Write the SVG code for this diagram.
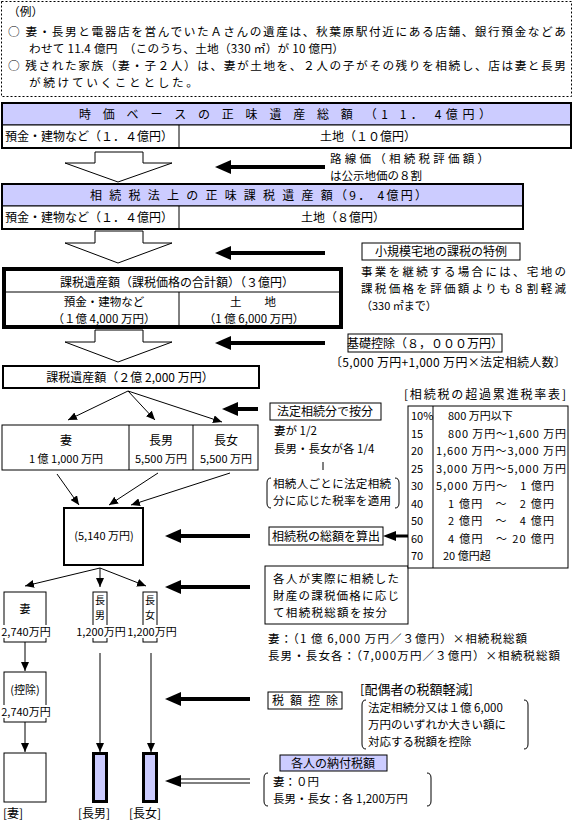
<svg xmlns="http://www.w3.org/2000/svg" width="574" height="821" viewBox="0 0 574 821">
<style>
.t{font-family:"Noto Sans CJK JP","Noto Sans CJK SC",sans-serif;font-size:12px;fill:#000}
.s{font-size:11.5px}
.xs{font-size:11px}
.m{text-anchor:middle}
.bx{fill:#fff;stroke:#000;stroke-width:1}
.bx2{fill:#fff;stroke:#000;stroke-width:2}
.hd{fill:#ccccff;stroke:#000;stroke-width:1}
.ln{stroke:#000;stroke-width:1;fill:none}
.big{stroke:#000;stroke-width:4;fill:none;marker-end:url(#bh)}
.thin{stroke:#000;stroke-width:1;fill:none;marker-end:url(#sh)}
.hol{fill:#fff;stroke:#000;stroke-width:1}
.wb{fill:#fff;stroke:none}
</style>
<defs>
<marker id="bh" markerUnits="userSpaceOnUse" markerWidth="16" markerHeight="14" viewBox="0 0 16 14" refX="0" refY="7" orient="auto"><path d="M0,0 L16,7 L0,14 z" fill="#000"/></marker>
<marker id="sh" markerUnits="userSpaceOnUse" markerWidth="9" markerHeight="8" viewBox="0 0 9 8" refX="9" refY="4" orient="auto"><path d="M0,0 L9,4 L0,8 z" fill="#000"/></marker>
</defs>

<g id="example">
<rect x="1.5" y="1.5" width="570" height="95" fill="#fff" stroke="#000" stroke-width="1" stroke-dasharray="2,2"/>
<text class="t" style="font-size:11.7px" x="8" y="16">（例）</text>
<text class="t" style="font-size:11.7px" x="8" y="36" textLength="558" lengthAdjust="spacing">○ 妻・長男と電器店を営んでいたＡさんの遺産は、秋葉原駅付近にある店舗、銀行預金などあ</text>
<text class="t" style="font-size:11.7px" x="29" y="53" textLength="315" lengthAdjust="spacing">わせて 11.4 億円　（このうち、土地（330 ㎡）が 10 億円）</text>
<text class="t" style="font-size:11.7px" x="8" y="70" textLength="558" lengthAdjust="spacing">○ 残された家族（妻・子２人）は、妻が土地を、２人の子がその残りを相続し、店は妻と長男</text>
<text class="t" style="font-size:11.7px" x="29" y="87" textLength="169" lengthAdjust="spacing">が続けていくこととした。</text>
</g>

<g id="box1">
<rect class="hd" x="2" y="103" width="569" height="22"/>
<rect class="bx" x="2" y="125" width="569" height="23"/>
<line class="ln" x1="179" y1="125" x2="179" y2="148"/>
<rect x="2" y="103" width="569" height="45" fill="none" stroke="#000" stroke-width="2"/>
<text class="t" x="79" y="119" textLength="412" lengthAdjust="spacing">時 価 ベ ー ス の 正 味 遺 産 総 額 （1 1． 4億円）</text>
<text class="t" x="5" y="141" textLength="168" lengthAdjust="spacing">預金・建物など（１．４億円）</text>
<text class="t m" x="368" y="141">土地（１０億円）</text>
</g>

<g id="box2">
<rect class="hd" x="2" y="184" width="521" height="22"/>
<rect class="bx" x="2" y="206" width="521" height="23"/>
<line class="ln" x1="179" y1="206" x2="179" y2="229"/>
<rect x="2" y="184" width="521" height="45" fill="none" stroke="#000" stroke-width="2"/>
<text class="t" x="90" y="200" textLength="337" lengthAdjust="spacing">相 続 税 法 上 の 正 味 課 税 遺 産 額（9． 4億円）</text>
<text class="t" x="5" y="222" textLength="168" lengthAdjust="spacing">預金・建物など（１．４億円）</text>
<text class="t m" x="343" y="222">土地（８億円）</text>
</g>

<g id="box3">
<rect x="4" y="269" width="337" height="58" fill="#fff" stroke="#000" stroke-width="4"/>
<line class="ln" x1="4" y1="292" x2="341" y2="292"/>
<line class="ln" x1="179" y1="292" x2="179" y2="327"/>
<text class="t m" x="177" y="287">課税遺産額（課税価格の合計額）（３億円）</text>
<text class="t s m" x="104" y="306">預金・建物など</text>
<text class="t s m" x="104" y="323">（１億 4,000 万円）</text>
<text class="t s m" x="253" y="306">土　　地</text>
<text class="t s m" x="254" y="323">（1 億 6,000 万円）</text>
</g>

<g id="box4">
<rect class="bx2" x="3" y="366" width="256" height="22"/>
<text class="t m" x="130" y="382">課税遺産額（２億 2,000 万円）</text>
</g>

<g id="heirs">
<rect class="bx" x="2" y="425" width="256" height="45"/>
<line class="ln" x1="129" y1="425" x2="129" y2="470"/>
<line class="ln" x1="193" y1="425" x2="193" y2="470"/>
<text class="t m" x="66" y="445">妻</text>
<text class="t xs m" x="66" y="463">1 億 1,000 万円</text>
<text class="t m" x="161" y="445">長男</text>
<text class="t xs m" x="161" y="463">5,500 万円</text>
<text class="t m" x="226" y="445">長女</text>
<text class="t xs m" x="226" y="463">5,500 万円</text>
</g>

<g id="total">
<rect class="bx2" x="64" y="508" width="79" height="57"/>
<text class="t xs m" x="104" y="540">(5,140 万円)</text>
</g>

<g id="wife1">
<rect class="bx" x="4" y="592" width="42" height="50"/>
<rect class="wb" x="1" y="625" width="50" height="13"/>
<text class="t xs m" x="25" y="613">妻</text>
<text class="t xs m" x="26" y="636">2,740万円</text>
</g>
<g id="son1">
<rect class="bx" x="93" y="592" width="14" height="50"/>
<rect class="wb" x="76" y="625" width="50" height="13"/>
<text class="t m" style="font-size:10px" x="100" y="604">長</text>
<text class="t m" style="font-size:10px" x="100" y="619">男</text>
<text class="t xs m" x="101" y="636">1,200万円</text>
</g>
<g id="daughter1">
<rect class="bx" x="143" y="592" width="14" height="50"/>
<rect class="wb" x="127" y="625" width="50" height="13"/>
<text class="t m" style="font-size:10px" x="150" y="604">長</text>
<text class="t m" style="font-size:10px" x="150" y="619">女</text>
<text class="t xs m" x="152" y="636">1,200万円</text>
</g>
<g id="wife2">
<rect class="bx" x="4" y="672" width="42" height="50"/>
<rect class="wb" x="1" y="705" width="50" height="13"/>
<text class="t xs m" x="25" y="694">(控除)</text>
<text class="t xs m" x="26" y="716">2,740万円</text>
</g>

<g id="final">
<rect class="bx" x="4" y="753" width="42" height="49"/>
<rect x="93.5" y="753.5" width="13" height="48" fill="#ccccff" stroke="#000" stroke-width="3"/>
<rect x="143.5" y="753.5" width="13" height="48" fill="#ccccff" stroke="#000" stroke-width="3"/>
<text class="t" x="3" y="818">[妻]</text>
<text class="t" x="78" y="818">[長男]</text>
<text class="t" x="129" y="818">[長女]</text>
</g>

<g id="notes">
<text class="t s" x="330" y="163" textLength="159" lengthAdjust="spacing">路線価（相続税評価額）</text>
<text class="t s" x="330" y="180">は公示地価の８割</text>

<rect class="bx" x="362" y="243" width="158" height="17"/>
<text class="t m" x="441" y="256">小規模宅地の課税の特例</text>
<text class="t s" x="361" y="276" textLength="205" lengthAdjust="spacing">事業を継続する場合には、宅地の</text>
<text class="t s" x="361" y="293" textLength="205" lengthAdjust="spacing">課税価格を評価額よりも８割軽減</text>
<text class="t xs" x="361" y="310">（330 ㎡まで）</text>

<rect class="bx" x="348" y="334" width="154" height="18"/>
<text class="t m" x="425" y="348">基礎控除（８，０００万円）</text>
<text class="t" x="330" y="367" textLength="236" lengthAdjust="spacing">〔5,000 万円+1,000 万円×法定相続人数〕</text>

<rect class="bx" x="270" y="403" width="111" height="17"/>
<text class="t m" x="325" y="416">法定相続分で按分</text>
<text class="t s" x="274" y="435">妻が 1/2</text>
<text class="t s" x="274" y="453">長男・長女が各 1/4</text>
<line class="ln" x1="323" y1="462" x2="323" y2="470"/>
<path class="ln" d="M271,478 Q267,478 267,483 L267,503 Q267,508 271,508"/>
<path class="ln" d="M395,478 Q399,478 399,483 L399,503 Q399,508 395,508"/>
<text class="t s" x="273" y="488" textLength="118" lengthAdjust="spacing">相続人ごとに法定相続</text>
<text class="t s" x="273" y="505" textLength="118" lengthAdjust="spacing">分に応じた税率を適用</text>

<rect class="bx" x="269" y="527" width="114" height="18"/>
<text class="t m" x="326" y="541">相続税の総額を算出</text>

<rect class="bx" x="265" y="566" width="143" height="58"/>
<text class="t s" x="273" y="583" textLength="126" lengthAdjust="spacing">各人が実際に相続した</text>
<text class="t s" x="273" y="600" textLength="126" lengthAdjust="spacing">財産の課税価格に応じ</text>
<text class="t s" x="273" y="617" textLength="114" lengthAdjust="spacing">て相続税総額を按分</text>
<text class="t s" x="268" y="643" textLength="259" lengthAdjust="spacing">妻：（1 億 6,000 万円／３億円）×相続税総額</text>
<text class="t s" x="268" y="660" textLength="292" lengthAdjust="spacing">長男・長女各：（7,000万円／３億円）×相続税総額</text>

<rect class="bx" x="268" y="692" width="74" height="17"/>
<text class="t" x="272" y="705" textLength="66" lengthAdjust="spacing">税 額 控 除</text>
<text class="t" x="360" y="694" style="font-size:13px">[配偶者の税額軽減]</text>
<path class="ln" d="M366,700 Q362,700 362,705 L362,744 Q362,749 366,749"/>
<path class="ln" d="M524,700 Q528,700 528,705 L528,744 Q528,749 524,749"/>
<text class="t s" x="368" y="712">法定相続分又は１億 6,000</text>
<text class="t s" x="368" y="729">万円のいずれか大きい額に</text>
<text class="t s" x="368" y="746">対応する税額を控除</text>

<rect class="hd" x="280" y="755" width="107" height="16"/>
<text class="t m" x="333" y="768">各人の納付税額</text>
<path class="ln" d="M268,773 Q264,773 264,778 L264,801 Q264,806 268,806"/>
<path class="ln" d="M427,773 Q431,773 431,778 L431,801 Q431,806 427,806"/>
<text class="t s" x="273" y="786">妻：０円</text>
<text class="t s" x="273" y="803">長男・長女：各 1,200万円</text>

<text class="t" x="404" y="399" textLength="162" lengthAdjust="spacing">[相続税の超過累進税率表]</text>
<rect class="bx" x="408" y="406" width="160" height="162"/>
<line class="ln" x1="433" y1="406" x2="433" y2="568"/>
<g class="t xs">
<text x="411" y="420">10%</text>
<text x="411" y="437.5">15</text>
<text x="411" y="455">20</text>
<text x="411" y="472.5">25</text>
<text x="411" y="490">30</text>
<text x="411" y="507.5">40</text>
<text x="411" y="525">50</text>
<text x="411" y="542.5">60</text>
<text x="411" y="560">70</text>
<text x="448" y="420">800 万円以下</text>
<text x="448" y="437.5" textLength="118" lengthAdjust="spacing">800 万円～1,600 万円</text>
<text x="436" y="455" textLength="130" lengthAdjust="spacing">1,600 万円～3,000 万円</text>
<text x="436" y="472.5" textLength="130" lengthAdjust="spacing">3,000 万円～5,000 万円</text>
<text x="436" y="490" textLength="118" lengthAdjust="spacing">5,000 万円～　1 億円</text>
<text x="448" y="507.5" textLength="106" lengthAdjust="spacing">1 億円　～　2 億円</text>
<text x="448" y="525" textLength="106" lengthAdjust="spacing">2 億円　～　4 億円</text>
<text x="448" y="542.5" textLength="106" lengthAdjust="spacing">4 億円　～ 20 億円</text>
<text x="443" y="560">20 億円超</text>
</g>
</g>

<g id="connectors">
<polygon class="hol" points="95,152 143,152 143,163 172,163 118,182 65,163 95,163"/>
<polygon class="hol" points="95,231 143,231 143,243 172,243 118,263 65,243 95,243"/>
<polygon class="hol" points="95,330 143,330 143,342 172,342 118,362 65,342 95,342"/>
<line class="big" x1="325" y1="167" x2="231" y2="167"/>
<line class="big" x1="325" y1="253" x2="231" y2="253"/>
<line class="big" x1="325" y1="343" x2="231" y2="343"/>
<line class="big" x1="258" y1="409" x2="238" y2="409"/>
<line class="big" x1="250" y1="536" x2="181" y2="536"/>
<line class="big" x1="250" y1="587" x2="181" y2="587"/>
<line class="big" x1="250" y1="699" x2="181" y2="699"/>
<line x1="408" y1="536" x2="395" y2="536" stroke="#000" stroke-width="3"/>
<polygon points="383,536 396,531 396,541" fill="#000"/>
<line class="ln" x1="250" y1="779" x2="180" y2="779"/>
<line class="ln" x1="250" y1="783" x2="180" y2="783"/>
<polygon points="165,781 181,775 181,787" fill="#000"/>
<line class="thin" x1="128" y1="391" x2="68" y2="420"/>
<line class="thin" x1="128" y1="391" x2="155" y2="420"/>
<line class="thin" x1="128" y1="391" x2="222" y2="422"/>
<line class="thin" x1="57" y1="474" x2="79" y2="505"/>
<line class="thin" x1="158" y1="473" x2="109" y2="505"/>
<line class="thin" x1="230" y1="473" x2="131" y2="505"/>
<line class="thin" x1="100" y1="568" x2="25" y2="586"/>
<line class="thin" x1="100" y1="568" x2="100" y2="587"/>
<line class="thin" x1="100" y1="568" x2="146" y2="586"/>
<line class="thin" x1="25" y1="642" x2="25" y2="671"/>
<line class="thin" x1="25" y1="722" x2="25" y2="752"/>
<line class="thin" x1="100" y1="653" x2="100" y2="752"/>
<line class="thin" x1="151" y1="653" x2="151" y2="752"/>
</g>
</svg>
